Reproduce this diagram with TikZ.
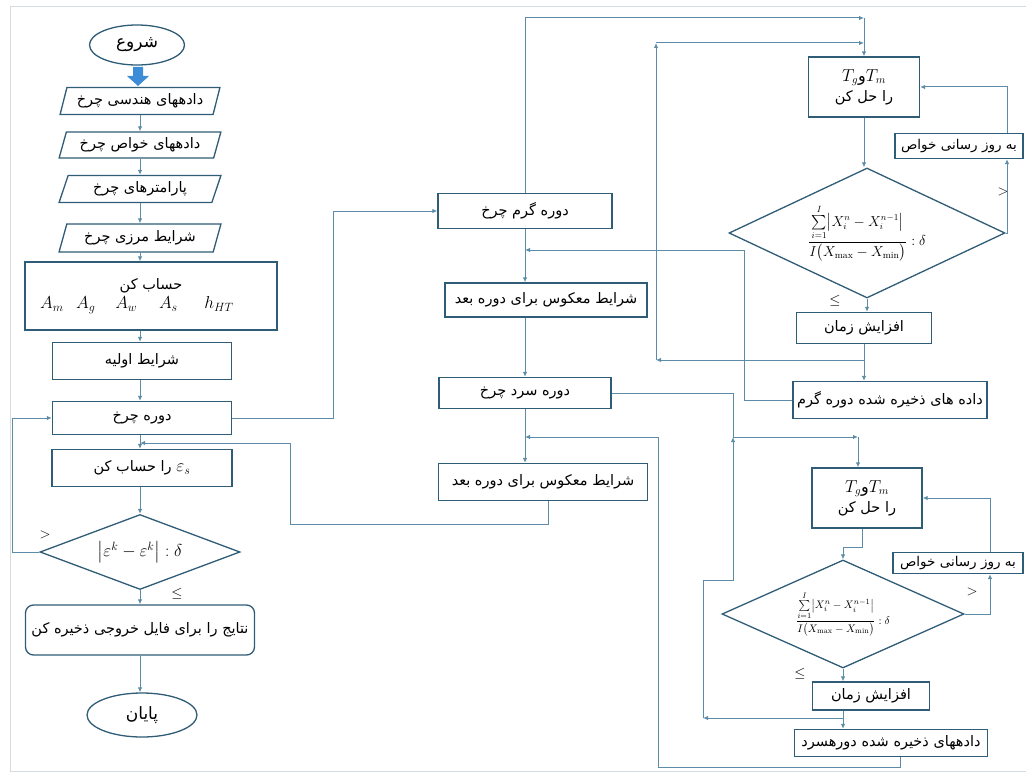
\documentclass[tikz,border=0pt]{standalone}
\usepackage{fontspec}
\usepackage{amsmath}
\usetikzlibrary{shapes.geometric,arrows.meta,calc}
\TeXXeTstate=1
\newfontfamily\fa[Script=Arabic]{DejaVu Sans}
\newcommand{\fat}[1]{{\fa\beginR #1\endR}}
\newcommand{\critfrac}{\dfrac{\sum\limits_{i=1}^{I}\bigl|X_i^n-X_i^{n-1}\bigr|}{I\bigl(X_{\max}-X_{\min}\bigr)}:\delta}
\definecolor{boxc}{RGB}{47,92,118}
\definecolor{linec}{RGB}{92,140,168}
\definecolor{arrowblue}{RGB}{60,140,215}
\definecolor{framec}{RGB}{212,220,226}
\begin{document}
\begin{tikzpicture}[x=1pt,y=-1pt,font=\fontsize{14.5}{17}\selectfont,
  box/.style={draw=boxc, line width=1.3pt, fill=white, inner sep=1pt, align=center},
  term/.style={box, ellipse, font=\fontsize{17}{19}\selectfont},
  parbox/.style={box, trapezium, trapezium left angle=70, trapezium right angle=110, trapezium stretches=true},
  dia/.style={box, diamond, inner sep=0pt},
  ln/.style={draw=linec, line width=1pt},
  arr/.style={ln, -{Latex[length=5pt,width=4.5pt]}},
  lbl/.style={inner sep=0pt, font=\fontsize{14}{16}\selectfont}]
\useasboundingbox (0,0) rectangle (1026,776);
\draw[framec, line width=1pt] (1026,7) -- (10,7) -- (10,771) -- (1026,771);

% left column
\node[term, minimum width=95pt, minimum height=40pt] (start) at (137,45) {\fat{شروع}};
\coordinate (ba) at (138,67);
\fill[arrowblue] (ba) ++(-5,0) -- ++(10,0) -- ++(0,9) -- ++(6,0) -- ++(-11,10) -- ++(-11,-10) -- ++(6,0) -- cycle;
\node[parbox, minimum width=160pt, minimum height=27pt] (p1) at (140,101) {\fat{دادههای هندسی چرخ}};
\node[parbox, minimum width=162pt, minimum height=26pt] (p2) at (140,145) {\fat{دادههای خواص چرخ}};
\node[parbox, minimum width=162pt, minimum height=27pt] (p3) at (140,189) {\fat{پارامترهای چرخ}};
\node[parbox, minimum width=162pt, minimum height=28pt] (p4) at (140,238) {\fat{شرایط مرزی چرخ}};
\node[box, minimum width=252pt, minimum height=68pt] (calc) at (151,296)
  {\fat{حساب کن}\\[2pt]{\fontsize{17}{19}\selectfont $A_m\;\;\, A_g\quad\, A_w\quad\; A_s\quad\;\; h_{HT}$}\hspace*{28pt}};
\node[box, minimum width=179pt, minimum height=37pt] (init) at (142,361) {\fat{شرایط اولیه}};
\node[box, minimum width=179pt, minimum height=33pt] (cyc) at (142,418) {\fat{دوره چرخ}};
\node[box, minimum width=180pt, minimum height=37pt] (eps) at (142,468) {\fat{را حساب کن} {\fontsize{18}{20}\selectfont$\varepsilon_s$}};
\node[dia, aspect=2.67, minimum width=200pt, minimum height=75pt] (d1) at (140,552) {{\fontsize{17}{19}\selectfont$\bigl|\varepsilon^k-\varepsilon^k\bigr|:\delta$}};
\node[box, rounded corners=8pt, minimum width=229pt, minimum height=50pt] (save) at (140,630) {\fat{نتایج را برای فایل خروجی ذخیره کن}};
\node[term, minimum width=110pt, minimum height=44pt] (end) at (142,715) {\fat{پایان}};
\node[lbl] (gt0) at (45,535) {$>$};
\node[lbl] (le0) at (177,594) {$\leq$};

% middle column
\node[box, minimum width=174pt, minimum height=35pt] (warm) at (525,211) {\fat{دوره گرم چرخ}};
\node[box, minimum width=202pt, minimum height=34pt] (rev1) at (546,300) {\fat{شرایط معکوس برای دوره بعد}};
\node[box, minimum width=172pt, minimum height=31pt] (cold) at (525,393) {\fat{دوره سرد چرخ}};
\node[box, minimum width=209pt, minimum height=37pt] (rev2) at (543,482) {\fat{شرایط معکوس برای دوره بعد}};

% upper right
\node[box, minimum width=111pt, minimum height=60pt] (T1) at (864,87)
  {{\fontsize{16}{18}\selectfont$T_g$\fa و$T_m$}\\[3pt]\fat{را حل کن}};
\node[box, minimum width=128pt, minimum height=25pt, inner sep=0pt, font=\fontsize{13.5}{15}\selectfont] (upd1) at (959,146) {\fat{به روز رسانی خواص}};
\node[dia, aspect=2.12, minimum width=276pt, minimum height=130pt] (dm1) at (867,233)
  {{\fontsize{13.5}{15}\selectfont$\critfrac$}};
\node[box, minimum width=135pt, minimum height=31pt] (inc1) at (864,328) {\fat{افزایش زمان}};
\node[box, minimum width=194pt, minimum height=37pt, inner sep=0pt] (sv1) at (890,400) {\fat{داده های ذخیره شده دوره گرم}};
\node[lbl] (gt1) at (1003,192) {$>$};
\node[lbl] (le1) at (835,301) {$\leq$};

% lower right
\node[box, minimum width=110pt, minimum height=60pt] (T2) at (867,498)
  {{\fontsize{16}{18}\selectfont$T_g$\fa و$T_m$}\\[3pt]\fat{را حل کن}};
\node[box, minimum width=130pt, minimum height=21pt, inner sep=0pt, font=\fontsize{13.5}{15}\selectfont] (upd2) at (958,563) {\fat{به روز رسانی خواص}};
\node[dia, aspect=2.24, minimum width=242pt, minimum height=108pt] (dm2) at (843,614)
  {{\fontsize{11}{13}\selectfont$\critfrac$}};
\node[box, minimum width=117pt, minimum height=28pt] (inc2) at (871,696) {\fat{افزایش زمان}};
\node[box, minimum width=193pt, minimum height=27pt, inner sep=0pt] (sv2) at (891,743) {\fat{دادههای ذخیره شده دورهسرد}};
\node[lbl] (gt2) at (972,592) {$>$};
\node[lbl] (le2) at (800,674) {$\leq$};

% coordinates
\coordinate (j1) at (525,250);
\coordinate (j2) at (525,437);
\coordinate (j3) at (140,443);
\coordinate (t1) at (864,18);
\coordinate (j4) at (864,360);
\coordinate (t2) at (656,360);
\coordinate (t3) at (656,43);
\coordinate (t4) at (864,43);
\coordinate (k1) at (733,437);
\coordinate (k2) at (858,437);
\coordinate (j5) at (843,718);
\coordinate (m1) at (703,718);
\coordinate (m2) at (733,580);

% left connectors
\draw[arr] (p1.south) -- (p1.south |- p2.north);
\draw[arr] (p2.south) -- (p2.south |- p3.north);
\draw[arr] (p3.south) -- (p3.south |- p4.north);
\draw[arr] (p4.south) -- (p4.south |- calc.north);
\draw[arr] (calc.south -| p4.south) -- (p4.south |- init.north);
\draw[arr] (init.south -| p4.south) -- (p4.south |- cyc.north);
\draw[arr] (cyc.south -| p4.south) -- (p4.south |- eps.north);
\draw[arr] (eps.south -| p4.south) -- (p4.south |- d1.north);
\draw[arr] (d1.south) -- (d1.south |- save.north);
\draw[arr] (save.south) -- (save.south |- end.north);
\draw[arr] (d1.west) -- ++(-27,0) |- (cyc.west);
\draw[arr] (cyc.east) -- ++(101,0) |- (warm.west);
\draw[arr] ([xshift=5pt]rev2.south) -- ++(0,23) -| (290,443) -- (j3);

% middle connectors
\draw[arr] (warm.south) -- (warm.south |- rev1.north);
\draw[arr] (sv1.west) -- ++(-48,0) |- (j1);
\draw[arr] (rev1.south -| cold) -- (cold.north);
\draw[arr] (cold.south) -- (cold.south |- rev2.north);
\draw[arr] ([xshift=9pt]sv2.south) -- ++(0,10) -| (658,437) -- (j2);

% upper right connectors
\draw[arr] (warm.north) |- (t1);
\draw[arr] (t1) -- (T1.north);
\draw[arr] (j4) -- (t2);
\draw[arr] (t2) -- (t3);
\draw[arr] (t3) -- (t4);
\draw[arr] (T1.south) -- (T1.south |- dm1.north);
\draw[arr] (dm1.east) -| ([xshift=48pt]upd1.south);
\draw[arr] ([xshift=48pt]upd1.north) |- (T1.east);
\draw[arr] (dm1.south) -- (dm1.south |- inc1.north);
\draw[arr] (inc1.south) -- (inc1.south |- sv1.north);

% lower right connectors
\draw[ln] (cold.east) -| (k1);
\draw[arr] (k1) -- (k2);
\draw[arr] (k2) -- (k2 |- T2.north);
\draw[arr] ([xshift=-5pt]T2.south) -- ++(0,19) -| (dm2.north);
\draw[arr] (dm2.east) -| ([xshift=32pt]upd2.south);
\draw[arr] ([xshift=32pt]upd2.north) |- (T2.east);
\draw[arr] (dm2.south) -- (dm2.south |- inc2.north);
\draw[arr] (inc2.south -| dm2.south) -- (sv2.north -| dm2.south);
\draw[arr] (j5) -- (m1);
\draw[arr] (m1) |- (m2) -- (k1);
\end{tikzpicture}
\end{document}
